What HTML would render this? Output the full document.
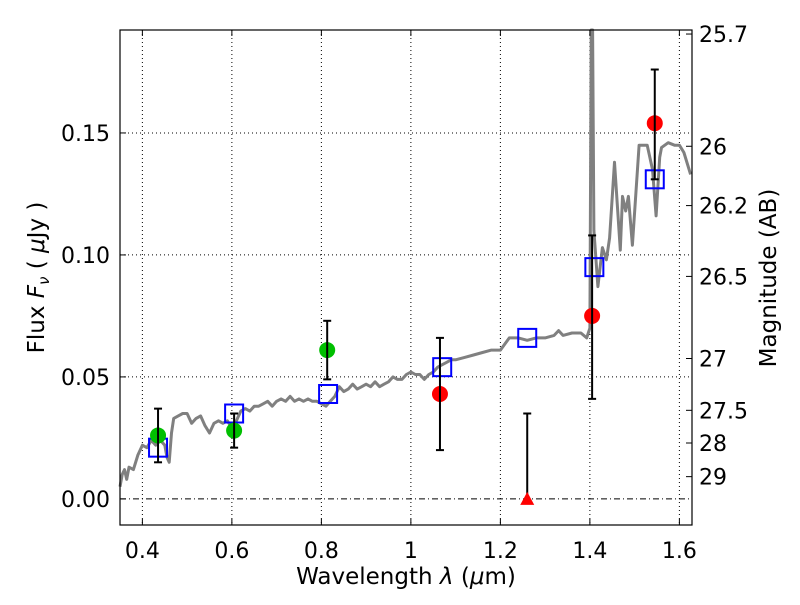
<!DOCTYPE html>
<html><head><meta charset="utf-8"><style>
body{margin:0;background:#fff}
svg{font-family:"DejaVu Sans","Liberation Sans",sans-serif}
</style></head><body>
<svg id="chart" width="800" height="600" viewBox="0 0 800 600">
<g id="grid"></g>
<g id="spec"></g>
<g id="marks"></g>
<g id="axes"></g>
</svg>
<script>
const specLam=[0.35,0.355,0.36,0.365,0.37,0.38,0.39,0.40,0.41,0.42,0.43,0.44,0.45,0.455,0.46,0.465,0.47,0.48,0.49,0.50,0.51,0.52,0.53,0.54,0.55,0.56,0.57,0.58,0.59,0.60,0.61,0.62,0.63,0.64,0.65,0.66,0.67,0.68,0.69,0.70,0.71,0.72,0.73,0.74,0.75,0.76,0.77,0.78,0.79,0.80,0.81,0.82,0.83,0.84,0.85,0.86,0.87,0.88,0.89,0.90,0.91,0.92,0.93,0.94,0.95,0.96,0.97,0.98,0.99,1.00,1.01,1.02,1.03,1.04,1.05,1.06,1.07,1.08,1.09,1.10,1.12,1.14,1.16,1.18,1.20,1.22,1.24,1.26,1.28,1.30,1.32,1.33,1.34,1.36,1.38,1.393,1.400,1.403,1.406,1.409,1.418,1.428,1.437,1.444,1.455,1.468,1.473,1.480,1.486,1.495,1.51,1.528,1.540,1.548,1.556,1.56,1.575,1.589,1.60,1.61,1.625];
const specFlux=[0.005,0.010,0.012,0.008,0.013,0.012,0.018,0.022,0.021,0.024,0.022,0.024,0.022,0.017,0.015,0.027,0.033,0.034,0.035,0.035,0.031,0.033,0.034,0.030,0.027,0.031,0.032,0.031,0.032,0.029,0.032,0.036,0.037,0.036,0.038,0.038,0.039,0.040,0.038,0.040,0.041,0.040,0.042,0.040,0.041,0.040,0.041,0.040,0.040,0.039,0.038,0.040,0.042,0.046,0.044,0.045,0.047,0.045,0.046,0.047,0.046,0.048,0.046,0.047,0.048,0.050,0.049,0.049,0.051,0.052,0.051,0.051,0.049,0.051,0.052,0.054,0.055,0.056,0.057,0.057,0.058,0.059,0.060,0.061,0.061,0.066,0.066,0.065,0.066,0.066,0.067,0.069,0.067,0.068,0.068,0.066,0.070,0.195,0.195,0.110,0.087,0.103,0.098,0.107,0.138,0.102,0.124,0.118,0.124,0.104,0.145,0.145,0.135,0.116,0.140,0.144,0.146,0.145,0.145,0.142,0.133];
const detLam=[0.435,0.605,0.813];
const detFlux=[0.026,0.028,0.061];
const detLo=[0.015,0.021,0.049];
const detHi=[0.037,0.035,0.073];
const redLam=[1.065,1.405,1.545];
const redFlux=[0.043,0.075,0.154];
const redLo=[0.020,0.041,0.131];
const redHi=[0.066,0.108,0.176];
const limLam=[1.26];
const limFlux=[0.0];
const limHi=[0.035];
const modelLam=[0.435,0.605,0.815,1.07,1.26,1.41,1.545];
const modelFlux=[0.021,0.035,0.043,0.054,0.066,0.095,0.131];
const xTicks=[0.4,0.6,0.8,1.0,1.2,1.4,1.6];
const xTickLabels=["0.4","0.6","0.8","1","1.2","1.4","1.6"];
const yTicks=[0,0.05,0.10,0.15];
const yTickLabels=["0.00","0.05","0.10","0.15"];
const magTicks=[25.7,26,26.2,26.5,27,27.5,28,29];
const magTickLabels=["25.7","26","26.2","26.5","27","27.5","28","29"];

const L=120,R=692,T=30,B=525;
const xmin=0.35,xmax=1.6282,ymin=-0.0107,ymax=0.1922;
const X=v=>L+(v-xmin)/(xmax-xmin)*(R-L);
const Y=v=>B-(v-ymin)/(ymax-ymin)*(B-T);
const NS="http://www.w3.org/2000/svg";
function mk(tag,attrs,parent){const e=document.createElementNS(NS,tag);for(const k in attrs)e.setAttribute(k,attrs[k]);parent.appendChild(e);return e;}
const grid=document.getElementById('grid'),spec=document.getElementById('spec'),marks=document.getElementById('marks'),axes=document.getElementById('axes');

xTicks.forEach((t,i)=>{
 const g=mk('line',{x1:X(t),x2:X(t),y1:T,y2:B,stroke:'#000','stroke-width':1,'stroke-dasharray':'1,3'},grid);
 
 mk('line',{x1:X(t),x2:X(t),y1:B,y2:B-6,stroke:'#000'},axes);
 mk('line',{x1:X(t),x2:X(t),y1:T,y2:T+6,stroke:'#000'},axes);
 const tx=mk('text',{x:X(t),y:B+33,'font-size':22,'text-anchor':'middle'},axes);tx.textContent=xTickLabels[i];
 
});
yTicks.forEach((t,i)=>{
 const g=mk('line',{x1:L,x2:R,y1:Y(t),y2:Y(t),stroke:'#000','stroke-width':1,'stroke-dasharray':t===0?'6,3,1,3':'1,3'},grid);
 
 mk('line',{x1:L,x2:L+6,y1:Y(t),y2:Y(t),stroke:'#000'},axes);
 const tx=mk('text',{x:L-10,y:Y(t)+8,'font-size':22,'text-anchor':'end'},axes);tx.textContent=yTickLabels[i];
 
});
magTicks.forEach((m,i)=>{
 const f=Math.pow(10,(23.9-m)/2.5);const y=Y(f);
 mk('line',{x1:R,x2:R-6,y1:y,y2:y,stroke:'#000'},axes);
 const tx=mk('text',{x:R+7,y:y+8,'font-size':22},axes);tx.textContent=magTickLabels[i];
 
});

let d='';specLam.forEach((l,i)=>{d+=(i?'L':'M')+X(l).toFixed(1)+','+Math.max(Y(specFlux[i]),T).toFixed(1);});
const sp=mk('path',{d:d,fill:'none',stroke:'#808080','stroke-width':3,'stroke-linejoin':'round'},spec);


function ebar(x,lo,hi){mk('line',{x1:X(x),x2:X(x),y1:Y(lo),y2:Y(hi),stroke:'#000','stroke-width':2},marks);
 [lo,hi].forEach(v=>mk('line',{x1:X(x)-4,x2:X(x)+4,y1:Y(v),y2:Y(v),stroke:'#000','stroke-width':2},marks));}
modelLam.forEach((l,i)=>{const s=mk('rect',{x:X(l)-9,y:Y(modelFlux[i])-9,width:18,height:18,fill:'none',stroke:'#0000ff','stroke-width':2},marks);
 });
detLam.forEach((l,i)=>{const c=mk('circle',{cx:X(l),cy:Y(detFlux[i]),r:8,fill:'#00bf00'},marks);
 ebar(l,detLo[i],detHi[i]);});
redLam.forEach((l,i)=>{const c=mk('circle',{cx:X(l),cy:Y(redFlux[i]),r:8,fill:'#ff0000'},marks);
 ebar(l,redLo[i],redHi[i]);});
limLam.forEach((l,i)=>{mk('line',{x1:X(l),x2:X(l),y1:Y(limFlux[i]),y2:Y(limHi[i]),stroke:'#000','stroke-width':2},marks);
 mk('line',{x1:X(l)-4,x2:X(l)+4,y1:Y(limHi[i]),y2:Y(limHi[i]),stroke:'#000','stroke-width':2},marks);
 const x=X(l),y=Y(limFlux[i]);const t=mk('polygon',{points:`${x},${y-7} ${x-7},${y+6} ${x+7},${y+6}`,fill:'#ff0000'},marks);
 });

const fr=mk('rect',{x:L,y:T,width:R-L,height:B-T,fill:'none',stroke:'#000','stroke-width':1.2},axes);

const xl=mk('text',{x:(L+R)/2+0,y:584,'font-size':23,'text-anchor':'middle','xml:space':'preserve'},axes);
xl.innerHTML='Wavelength  <tspan font-style="italic">λ</tspan> (<tspan font-style="italic">μ</tspan>m)';

const yl=mk('text',{x:0,y:0,'font-size':23,'text-anchor':'middle',transform:`translate(44,${(T+B)/2}) rotate(-90)`},axes);
yl.innerHTML='Flux  <tspan font-style="italic">F</tspan><tspan font-style="italic" font-size="15" dy="5">ν</tspan><tspan dy="-5">  ( </tspan><tspan font-style="italic">μ</tspan>Jy )';

const ml=mk('text',{x:0,y:0,'font-size':23,'text-anchor':'middle',transform:`translate(776,278) rotate(-90)`},axes);
ml.textContent='Magnitude (AB)';

</script>
</body></html>
